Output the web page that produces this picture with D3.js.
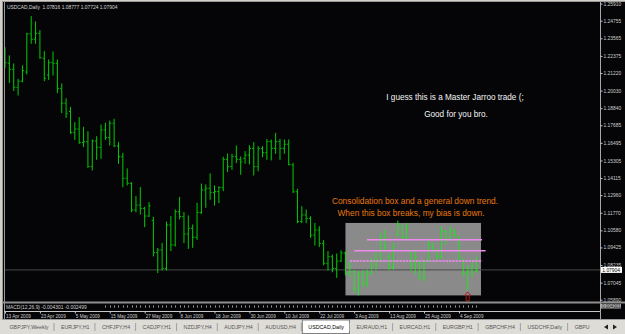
<!DOCTYPE html>
<html>
<head>
<meta charset="utf-8">
<script src="https://cdn.jsdelivr.net/npm/d3@7"></script>
<style>
  body { margin: 0; background: #d4d0c8; }
  svg { display: block; font-family: "Liberation Sans", Arial, sans-serif; }
</style>
</head>
<body>
<svg id="chart" width="625" height="334"></svg>
<script>
// USDCAD daily bars, 13 Apr 2009 .. 10 Sep 2009
const opens = [1.2266,1.2187,1.2147,1.2025,1.2066,1.2129,1.2386,1.2350,1.2390,1.2221,
  1.2108,1.2192,1.2187,1.2018,1.1917,1.1861,1.1719,1.1743,1.1651,1.1658,
  1.1489,1.1662,1.1619,1.1737,1.1685,1.1782,1.1628,1.1556,1.1410,1.1376,
  1.1196,1.1229,1.1207,1.1155,1.1124,1.0907,1.0925,1.0801,1.1094,1.0959,
  1.1184,1.1151,1.1033,1.1072,1.1011,1.1178,1.1331,1.1342,1.1313,1.1320,
  1.1347,1.1538,1.1489,1.1556,1.1538,1.1545,1.1567,1.1612,1.1489,1.1612,
  1.1583,1.1658,1.1612,1.1658,1.1612,1.1640,1.1500,1.1319,1.1117,1.1162,
  1.1139,1.1026,1.1060,1.0970,1.0835,1.0880,1.0800,1.0850,1.0905,1.0770,
  1.0780,1.0660,1.0760,1.0700,1.0770,1.0850,1.0850,1.1000,1.0880,1.0810,
  1.1030,1.1090,1.1010,1.0900,1.0830,1.0840,1.0740,1.0850,1.0960,1.0920,
  1.0880,1.1050,1.1000,1.1050,1.1010,1.0860,1.0770,1.0790,1.07816];
const highs = [1.2293,1.2237,1.2183,1.2079,1.2169,1.2390,1.2503,1.2467,1.2408,1.2266,
  1.2210,1.2264,1.2210,1.2048,1.1948,1.1890,1.1786,1.1820,1.1755,1.1725,
  1.1669,1.1691,1.1770,1.1782,1.1797,1.1809,1.1651,1.1579,1.1473,1.1380,
  1.1286,1.1347,1.1214,1.1245,1.1146,1.0936,1.0970,1.1114,1.1151,1.1196,
  1.1281,1.1178,1.1155,1.1094,1.1241,1.1371,1.1365,1.1439,1.1358,1.1353,
  1.1552,1.1574,1.1572,1.1628,1.1554,1.1590,1.1630,1.1651,1.1624,1.1624,
  1.1673,1.1669,1.1714,1.1673,1.1669,1.1669,1.1511,1.1335,1.1218,1.1196,
  1.1150,1.1105,1.1083,1.0988,1.0914,1.0891,1.0898,1.0920,1.0910,1.0846,
  1.0785,1.0779,1.0785,1.0790,1.0869,1.0903,1.1038,1.1060,1.0898,1.0970,
  1.1121,1.1094,1.1105,1.0920,1.0925,1.0846,1.0857,1.0981,1.0970,1.0925,
  1.1083,1.1060,1.1083,1.1060,1.1015,1.0862,1.0817,1.0839,1.08777];
const lows = [1.2160,1.2057,1.2003,1.1973,1.2063,1.2115,1.2323,1.2323,1.2221,1.2070,
  1.2079,1.2108,1.1989,1.1854,1.1822,1.1714,1.1673,1.1646,1.1624,1.1484,
  1.1466,1.1538,1.1545,1.1673,1.1635,1.1624,1.1511,1.1353,1.1365,1.1184,
  1.1184,1.1169,1.1083,1.1151,1.0885,1.0772,1.0790,1.0790,1.0921,1.0952,
  1.1135,1.0975,1.0936,1.0943,1.0997,1.1173,1.1214,1.1268,1.1229,1.1245,
  1.1326,1.1455,1.1471,1.1516,1.1437,1.1511,1.1507,1.1432,1.1461,1.1556,
  1.1538,1.1534,1.1579,1.1538,1.1579,1.1500,1.1313,1.1110,1.1110,1.1110,
  1.1011,1.0959,1.0948,1.0824,1.0790,1.0778,1.0740,1.0846,1.0756,1.0745,
  1.0639,1.0621,1.0677,1.0677,1.0756,1.0790,1.0846,1.0920,1.0790,1.0794,
  1.1020,1.0993,1.0997,1.0785,1.0767,1.0722,1.0718,1.0846,1.0914,1.0857,
  1.0869,1.0966,1.0993,1.1015,1.0862,1.0749,1.0655,1.0745,1.07724];
const closes = [1.2192,1.2147,1.2025,1.2066,1.2138,1.2386,1.2350,1.2390,1.2225,1.2086,
  1.2192,1.2187,1.2018,1.1917,1.1849,1.1719,1.1743,1.1651,1.1658,1.1489,
  1.1662,1.1619,1.1737,1.1685,1.1782,1.1628,1.1556,1.1410,1.1376,1.1196,
  1.1229,1.1207,1.1155,1.1223,1.0907,1.0925,1.0801,1.1094,1.0959,1.1184,
  1.1151,1.1033,1.1072,1.1011,1.1178,1.1331,1.1342,1.1313,1.1320,1.1347,
  1.1538,1.1489,1.1556,1.1538,1.1522,1.1567,1.1612,1.1489,1.1612,1.1583,
  1.1658,1.1612,1.1658,1.1612,1.1640,1.1503,1.1319,1.1117,1.1162,1.1139,
  1.1026,1.1060,1.0970,1.0835,1.0880,1.0800,1.0850,1.0905,1.0770,1.0810,
  1.0660,1.0760,1.0700,1.0770,1.0850,1.0820,1.1000,1.0940,1.0810,1.0950,
  1.1100,1.1010,1.1080,1.0830,1.0880,1.0740,1.0840,1.0960,1.0930,1.0880,
  1.1050,1.1000,1.1060,1.1030,1.0880,1.0770,1.0790,1.0820,1.07904];

const priceTicks = [1.25910,1.24755,1.23565,1.22375,1.21220,1.20030,1.18840,1.17685,1.16495,
  1.15305,1.14115,1.12960,1.11770,1.10580,1.09425,1.08235,1.07045,1.05890];
const timeLabels = ["13 Apr 2009","23 Apr 2009","5 May 2009","15 May 2009","27 May 2009","8 Jun 2009",
  "18 Jun 2009","30 Jun 2009","10 Jul 2009","22 Jul 2009","3 Aug 2009","13 Aug 2009","25 Aug 2009","4 Sep 2009"];
const timeBars = [0,8,16,24,32,40,48,56,64,72,80,88,96,104];

// drawn objects: consolidation box, three support lines, arrow
const boxBars = [78, 109.05];
const boxPrices = [1.1108, 1.0618];
const levelPrices = [1.0995, 1.0920, 1.0851];
const levelStart = [82.9, 80.0, 79.0];
const levelEnd = [109.3, 110.1, 109.3];
const arrowBar = 106;

// last tab is cut by the scroll arrows in the terminal
const tabNames = ["GBPJPY,Weekly","EURJPY,H1","CHFJPY,H4","CADJPY,H1","NZDJPY,H4","AUDJPY,H4",
  "AUDUSD,H4","USDCAD,Daily","EURAUD,H1","EURCAD,H1","EURGBP,H1","GBPCHF,H4","USDCHF,Daily","GBPU"];
const activeTab = "USDCAD,Daily";

const svg = d3.select("#chart");
const plotRight = 600, plotBottom = 302;

const xScale = d3.scaleLinear().domain([0, opens.length - 1]).range([5, 476.4]);
const yScale = d3.scaleLinear().domain([1.05890, 1.24755]).range([299.7, 20.7]);

// window frame
svg.append("rect").attr("width", 625).attr("height", 334).attr("fill", "#d4d0c8");
svg.append("rect").attr("x", 3).attr("y", 2).attr("width", 622).attr("height", 318).attr("fill", "#050507");
svg.append("g").attr("stroke", "#9a9a9a")
  .selectAll("line").data([2.5, 4.5]).join("line")
  .attr("x1", d => d).attr("x2", d => d).attr("y1", 1).attr("y2", 320);
svg.append("line").attr("x1", 2).attr("x2", 625).attr("y1", 1.5).attr("y2", 1.5).attr("stroke", "#9a9a9a");

svg.append("defs").append("clipPath").attr("id", "plotClip")
  .append("rect").attr("x", 5).attr("y", 2).attr("width", plotRight - 5).attr("height", plotBottom - 2);

const plot = svg.append("g").attr("clip-path", "url(#plotClip)");

// consolidation box
plot.append("rect")
  .attr("x", xScale(boxBars[0]))
  .attr("y", yScale(boxPrices[0]))
  .attr("width", xScale(boxBars[1]) - xScale(boxBars[0]))
  .attr("height", yScale(boxPrices[1]) - yScale(boxPrices[0]))
  .attr("fill", "#8a8a8a");

// current price line
plot.append("line")
  .attr("x1", 5).attr("x2", plotRight)
  .attr("y1", yScale(closes[closes.length - 1])).attr("y2", yScale(closes[closes.length - 1]))
  .attr("stroke", "#4a4a4a");

// OHLC bars
const bars = plot.append("g").attr("stroke", "#00ff00").attr("stroke-opacity", 0.8).attr("stroke-width", 1);
opens.forEach((o, i) => {
  const x = xScale(i);
  bars.append("line").attr("x1", x).attr("x2", x)
    .attr("y1", yScale(highs[i]) - 0.5).attr("y2", yScale(lows[i]) + 0.5);
  bars.append("line").attr("x1", x - 1.6).attr("x2", x - 0.5)
    .attr("y1", yScale(o)).attr("y2", yScale(o));
  bars.append("line").attr("x1", x + 0.5).attr("x2", x + 1.6)
    .attr("y1", yScale(closes[i])).attr("y2", yScale(closes[i]));
});

// support levels
levelPrices.forEach((p, i) => {
  plot.append("line")
    .attr("x1", xScale(levelStart[i])).attr("x2", xScale(levelEnd[i]))
    .attr("y1", yScale(p)).attr("y2", yScale(p))
    .attr("stroke", "#ee8cee").attr("stroke-width", 1.5)
    .attr("stroke-dasharray", i === 2 ? "2.5,0.8" : null);
});

// arrow under the 4 Sep low
const ax = xScale(arrowBar), ay = yScale(lows[arrowBar]) + 2;
plot.append("path")
  .attr("d", `M${ax},${ay} L${ax + 3},${ay + 3.5} L${ax + 1.5},${ay + 3.5} L${ax + 1.5},${ay + 9} L${ax - 1.5},${ay + 9} L${ax - 1.5},${ay + 3.5} L${ax - 3},${ay + 3.5} Z`)
  .attr("fill", "none").attr("stroke", "#b01818").attr("stroke-width", 1);

// comments
const notes = svg.append("g").attr("font-size", 8.2);
notes.append("text").attr("x", 455).attr("y", 100).attr("text-anchor", "middle").attr("fill", "#f4f4f4")
  .text("I guess this is a Master Jarroo trade (;");
notes.append("text").attr("x", 456).attr("y", 117).attr("text-anchor", "middle").attr("fill", "#f4f4f4")
  .text("Good for you bro.");
notes.append("text").attr("x", 415).attr("y", 203.5).attr("text-anchor", "middle").attr("fill", "#e5790e")
  .attr("font-size", 8.4).text("Consolidation box and a general down trend.");
notes.append("text").attr("x", 411).attr("y", 215.5).attr("text-anchor", "middle").attr("fill", "#e5790e")
  .attr("font-size", 8.4).text("When this box breaks, my bias is down.");

// header
svg.append("text").attr("x", 7).attr("y", 8.6).attr("font-size", 4.9).attr("fill", "#d8d8d8")
  .attr("xml:space", "preserve")
  .text(`USDCAD,Daily  ${[opens, highs, lows, closes].map(a => a[a.length - 1].toFixed(5)).join(" ")}`);

// price axis
svg.append("line").attr("x1", plotRight + 0.5).attr("x2", plotRight + 0.5).attr("y1", 2).attr("y2", 320)
  .attr("stroke", "#a8a8a8");
const priceAxis = svg.append("g").attr("transform", `translate(${plotRight + 0.5},0)`)
  .call(d3.axisRight(yScale).tickValues(priceTicks).tickFormat(d3.format(".5f")).tickSize(2).tickPadding(1));
priceAxis.select(".domain").remove();
priceAxis.selectAll("line").attr("stroke", "#c8c8c8");
priceAxis.selectAll("text").attr("fill", "#d0d0d0").attr("font-size", 4.9)
  .attr("font-family", "'Liberation Sans', Arial, sans-serif");

const lastY = yScale(closes[closes.length - 1]);
svg.append("rect").attr("x", 601).attr("y", lastY - 3).attr("width", 21).attr("height", 6).attr("fill", "#ffffff");
svg.append("text").attr("x", 602.3).attr("y", lastY + 1.8).attr("font-size", 4.9).attr("fill", "#000")
  .text(closes[closes.length - 1].toFixed(5));

// indicator subwindow
svg.append("line").attr("x1", 3).attr("x2", 625).attr("y1", plotBottom + 0.5).attr("y2", plotBottom + 0.5)
  .attr("stroke", "#909090").attr("stroke-width", 2);
svg.append("g").attr("stroke", "#a0a0a0")
  .selectAll("line").data(opens).join("line")
  .attr("x1", (d, i) => Math.round(xScale(i)) + 0.5).attr("x2", (d, i) => Math.round(xScale(i)) + 0.5)
  .attr("y1", 305.5).attr("y2", 307.5);
svg.append("rect").attr("x", 5).attr("y", 304).attr("width", 99).attr("height", 6).attr("fill", "#050507");
svg.append("text").attr("x", 6).attr("y", 309.2).attr("font-size", 4.9).attr("fill", "#d0d0d0")
  .text("MACD(12,26,9) -0.004301 -0.002499");
svg.append("rect").attr("x", 601).attr("y", 304).attr("width", 20).attr("height", 4.5).attr("fill", "#a8a8a8");
svg.append("text").attr("x", 602).attr("y", 307.8).attr("font-size", 4.5).attr("fill", "#202020")
  .text("0.004301");

// time axis
svg.append("line").attr("x1", 4).attr("x2", plotRight).attr("y1", 311.5).attr("y2", 311.5).attr("stroke", "#c8c8c8");
const timeAxis = svg.append("g").attr("transform", "translate(0,311.5)")
  .call(d3.axisBottom(xScale).tickValues(timeBars).tickFormat((d, i) => timeLabels[i]).tickSize(2).tickPadding(1));
timeAxis.select(".domain").remove();
timeAxis.selectAll("line").attr("stroke", "#c8c8c8");
timeAxis.selectAll("text").attr("fill", "#d0d0d0").attr("font-size", 4.6).attr("text-anchor", "start")
  .attr("dx", 0.5).attr("font-family", "'Liberation Sans', Arial, sans-serif");
svg.append("line").attr("x1", 3).attr("x2", 625).attr("y1", 319.5).attr("y2", 319.5).attr("stroke", "#9a9a9a");

// tab bar
svg.append("rect").attr("x", 0).attr("y", 320).attr("width", 625).attr("height", 14).attr("fill", "#dedcd6");
const tabs = svg.append("g").attr("font-size", 5.3);
let cursor = 3;
tabNames.forEach((name, i) => {
  const active = name === activeTab;
  const t = tabs.append("text").attr("y", 328.8).attr("fill", active ? "#000" : "#555").text(name);
  const w = t.node().getComputedTextLength();
  if (active) {
    tabs.insert("rect", "text").attr("x", cursor + 0.5).attr("y", 320).attr("width", w + 11.5).attr("height", 13.5)
      .attr("fill", "#ffffff").attr("stroke", "#808080");
  }
  t.attr("x", cursor + 6.5);
  cursor += w + 12.5;
  if (i < tabNames.length - 1) {
    tabs.append("line").attr("x1", cursor - 0.5).attr("x2", cursor - 0.5).attr("y1", 323).attr("y2", 331)
      .attr("stroke", "#a0a0a0");
  }
});
svg.append("path").attr("d", "M604,327 L608,324.5 L608,329.5 Z").attr("fill", "#202020");
svg.append("path").attr("d", "M617,327 L613,324.5 L613,329.5 Z").attr("fill", "#202020");
</script>
</body>
</html>
